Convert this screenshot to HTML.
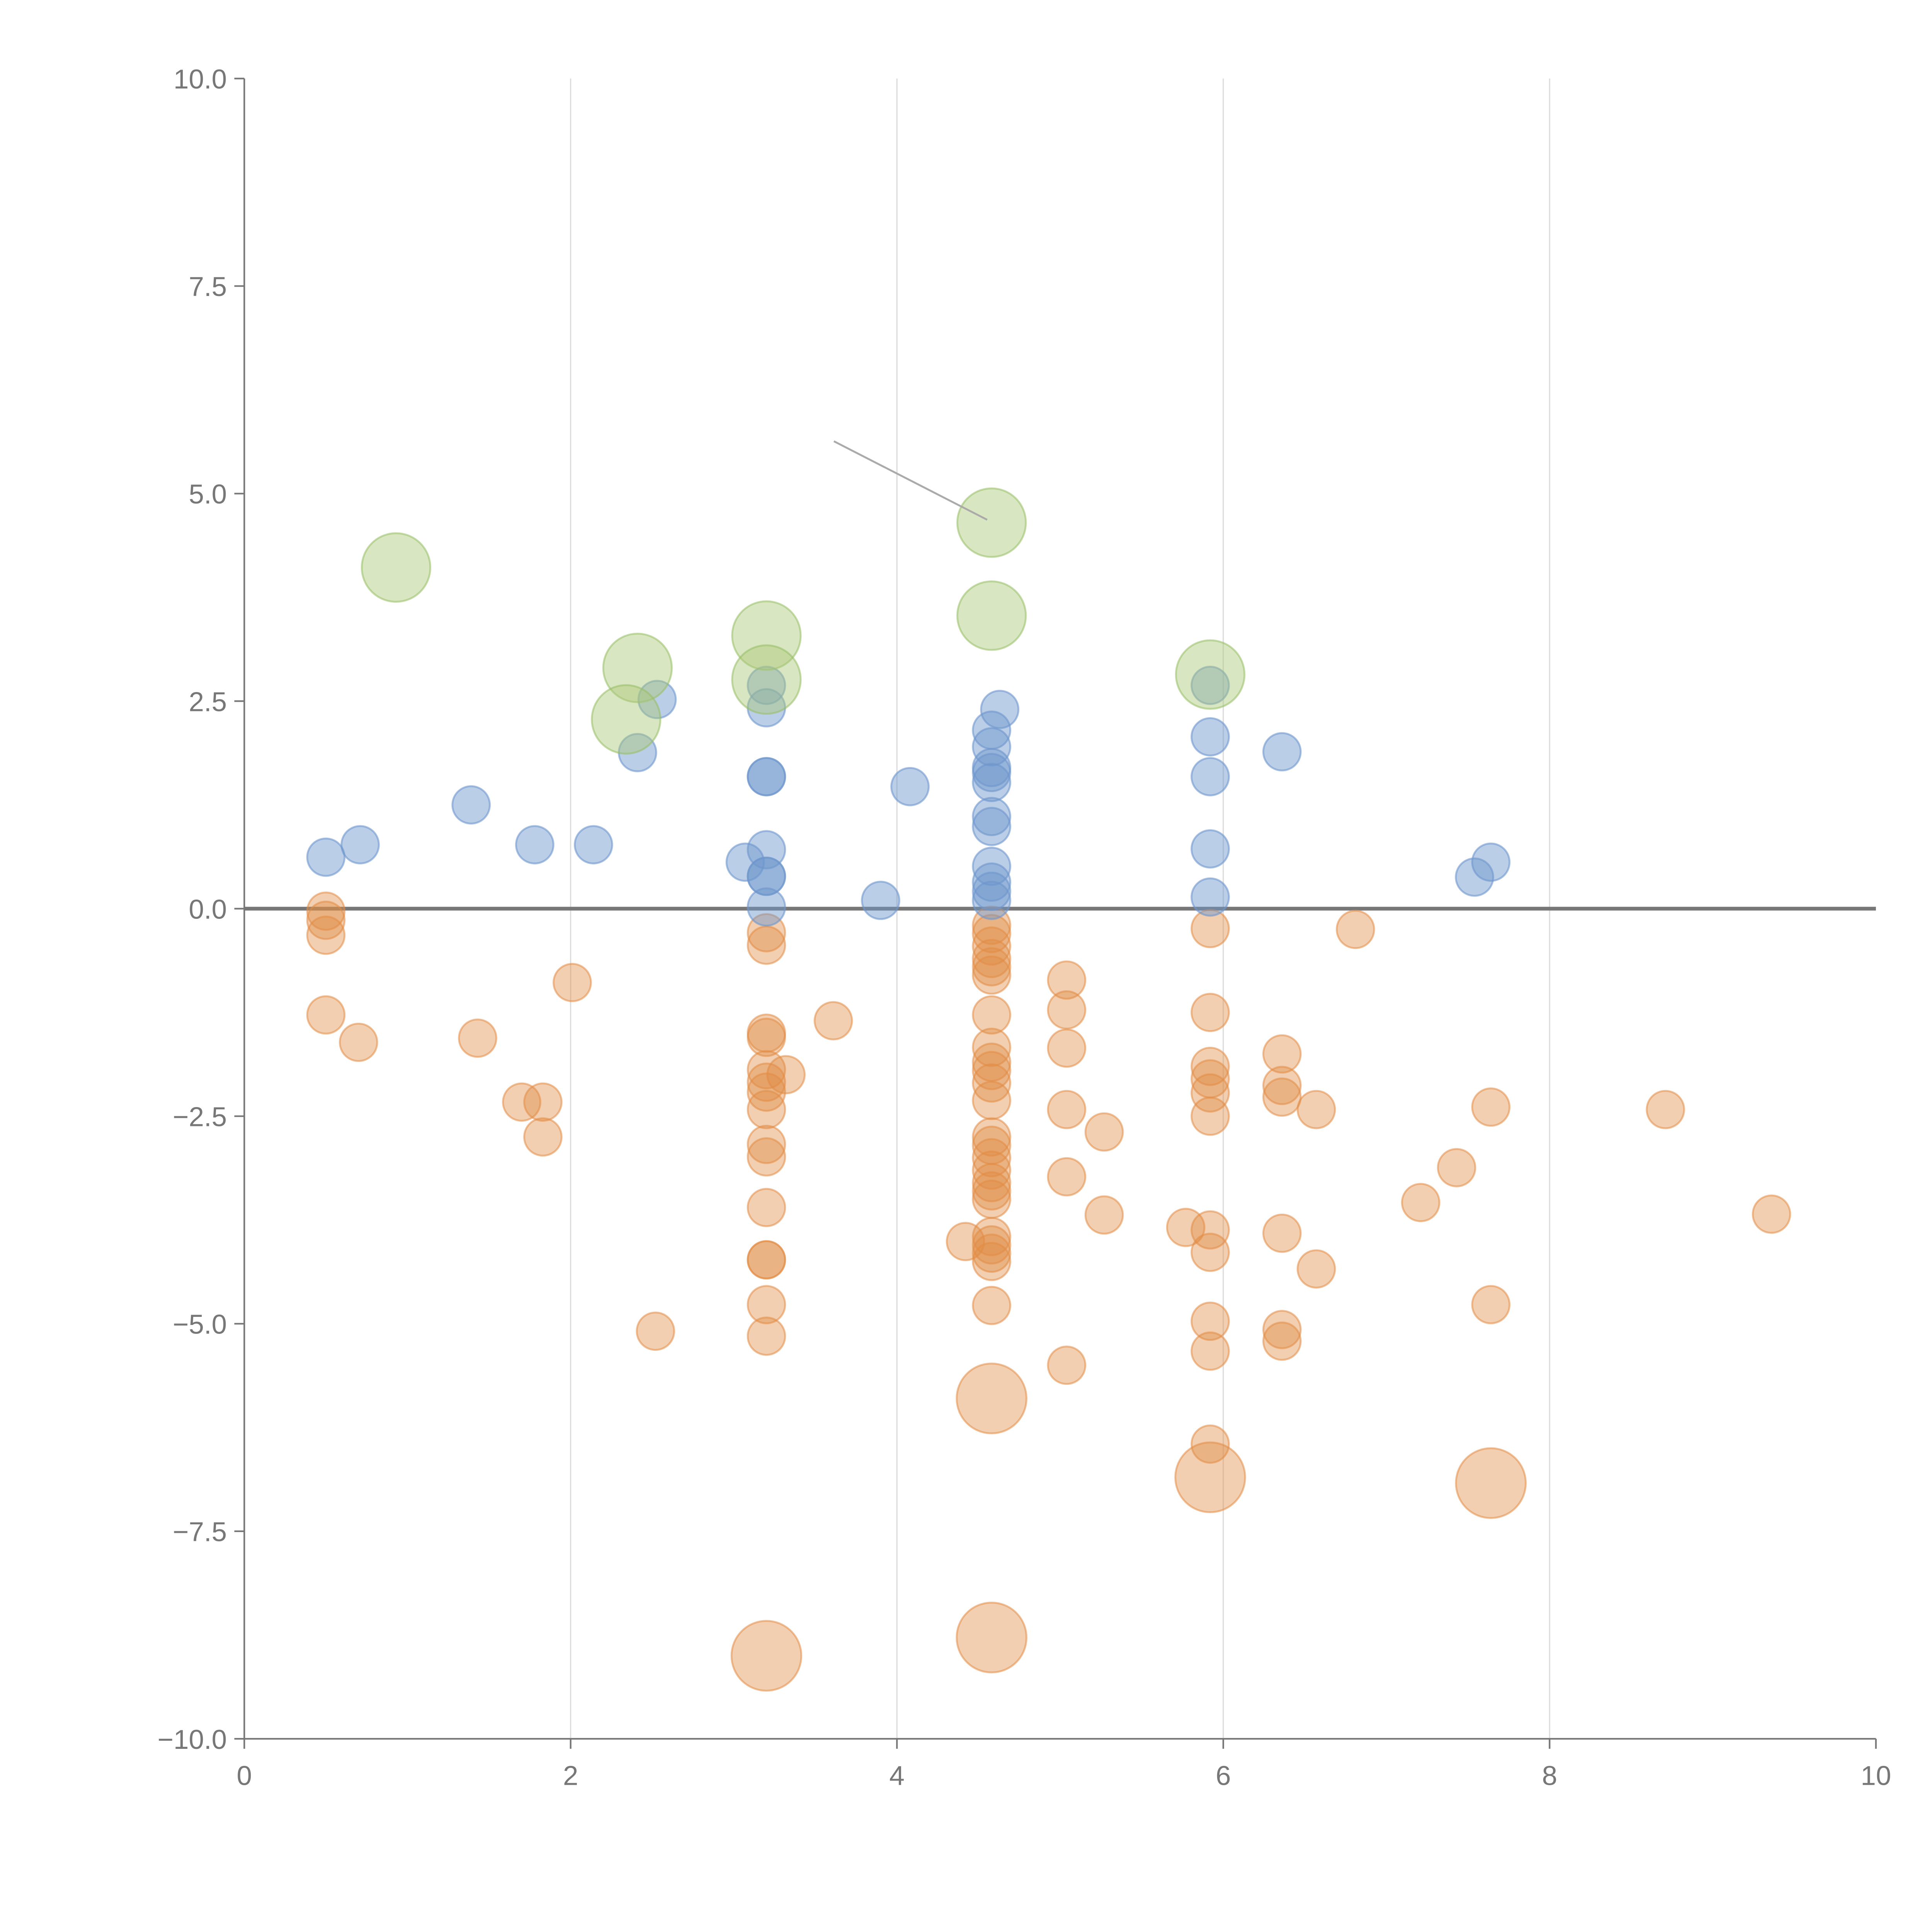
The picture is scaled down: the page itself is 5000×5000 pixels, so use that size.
<!DOCTYPE html>
<html><head><meta charset="utf-8"><style>
html,body{margin:0;padding:0;background:#fff;width:5000px;height:5000px;overflow:hidden}
svg{display:block}
text{font-family:"Liberation Sans",sans-serif;fill:#777;font-size:22px}
</style></head><body>
<svg id="chart" width="5000" height="5000" viewBox="0 0 1550 1550" xmlns="http://www.w3.org/2000/svg">
<g id="grid"></g>
<g id="axes"></g>
<g id="marks"></g>
</svg>
<script>
const xTicks=[0,2,4,6,8,10];
const yTicks=[10,7.5,5,2.5,0,-2.5,-5,-7.5,-10];
const yTickLabels=["10.0","7.5","5.0","2.5","0.0","\u22122.5","\u22125.0","\u22127.5","\u221210.0"];
const blueX=[0.5,0.71,1.39,1.78,2.14,2.41,2.53,3.07,3.2,3.2,3.2,3.2,3.2,3.2,3.2,3.2,3.9,4.08,4.63,4.58,4.58,4.58,4.58,4.58,4.58,4.58,4.58,4.58,4.58,4.58,5.92,5.92,5.92,5.92,5.92,6.36,7.54,7.64];
const blueY=[0.62,0.77,1.25,0.77,0.77,1.88,2.52,0.56,2.69,2.42,1.59,1.59,0.71,0.39,0.39,0.02,0.1,1.47,2.4,2.15,1.95,1.7,1.64,1.52,1.11,0.99,0.51,0.32,0.21,0.1,2.69,2.07,1.59,0.72,0.14,1.89,0.38,0.56];
const greenX=[0.93,2.41,2.34,3.2,3.2,4.58,4.58,5.92];
const greenY=[4.11,2.9,2.28,3.29,2.76,4.65,3.53,2.82];
const orangeX=[0.5,0.5,0.5,0.5,0.7,1.43,1.7,1.83,1.83,2.01,2.52,
3.2,3.2,3.2,3.2,3.2,3.2,3.2,3.32,3.2,3.2,3.2,3.2,3.2,3.2,3.2,3.2,3.61,4.42,
4.58,4.58,4.58,4.58,4.58,4.58,4.58,4.58,4.58,4.58,4.58,4.58,4.58,4.58,4.58,4.58,4.58,4.58,4.58,4.58,4.58,4.58,4.58,4.58,
5.04,5.04,5.04,5.04,5.04,5.04,5.27,5.27,5.77,
5.92,5.92,5.92,5.92,5.92,5.92,5.92,5.92,5.92,5.92,5.92,
6.36,6.36,6.36,6.36,6.36,6.36,6.57,6.57,6.81,7.21,7.43,7.64,7.64,8.71,9.36];
const orangeY=[-0.03,-0.14,-0.32,-1.28,-1.61,-1.56,-2.33,-2.33,-2.75,-0.89,-5.09,
-0.29,-0.44,-1.5,-1.55,-1.94,-2.09,-2.21,-2.0,-2.42,-2.84,-2.99,-3.6,-4.23,-4.23,-4.77,-5.15,-1.35,-4.01,
-0.2,-0.3,-0.45,-0.6,-0.7,-0.8,-1.28,-1.67,-1.85,-1.95,-2.1,-2.31,-2.75,-2.85,-3.0,-3.15,-3.3,-3.4,-3.5,-3.95,-4.05,-4.15,-4.25,-4.78,
-0.86,-1.22,-1.68,-2.42,-3.23,-5.5,-2.69,-3.69,-3.84,
-0.24,-1.25,-1.9,-2.05,-2.22,-2.5,-3.87,-4.14,-4.97,-5.33,-6.45,
-1.75,-2.13,-2.27,-3.91,-5.07,-5.21,-2.42,-4.34,-0.25,-3.54,-3.12,-2.39,-4.77,-2.42,-3.68];
const bigOrangeX=[4.58,5.92,7.64,3.2,4.58];
const bigOrangeY=[-5.9,-6.85,-6.92,-9.0,-8.78];

const NS="http://www.w3.org/2000/svg";
const X0=196,X1=1505,Y0=1395,Y1=63;
function sx(v){return X0+(v-0)/(10-0)*(X1-X0);}
function sy(v){return Y0-(v+10)/20*(Y0-Y1);}
function mk(tag,attrs,parent){const e=document.createElementNS(NS,tag);for(const k in attrs)e.setAttribute(k,attrs[k]);parent.appendChild(e);return e;}
const grid=document.getElementById('grid'),axes=document.getElementById('axes'),marks=document.getElementById('marks');
xTicks.forEach(t=>{
  if(t>0&&t<10){const g=mk('line',{x1:sx(t),x2:sx(t),y1:Y1,y2:Y0,stroke:'#dcdcdc','stroke-width':1},grid);
  
  }
  const tk=mk('line',{x1:sx(t),x2:sx(t),y1:Y0,y2:Y0+8,stroke:'#777','stroke-width':1.3},axes);
  
  
  const tx=mk('text',{x:sx(t),y:Y0+37,'text-anchor':'middle'},axes);tx.textContent=String(t);
  
  
});
yTicks.forEach((t,i)=>{
  const tk=mk('line',{x1:X0-8,x2:X0,y1:sy(t),y2:sy(t),stroke:'#777','stroke-width':1.3},axes);
  
  
  const tx=mk('text',{x:X0-14,y:sy(t)+8,'text-anchor':'end'},axes);tx.textContent=yTickLabels[i];
  
  
});
const ya=mk('line',{x1:X0,x2:X0,y1:Y1,y2:Y0,stroke:'#777','stroke-width':1.3},axes);


const xa=mk('line',{x1:X0,x2:X1,y1:Y0,y2:Y0,stroke:'#777','stroke-width':1.3},axes);


const zl=mk('line',{x1:X0,x2:X1,y1:sy(0),y2:sy(0),stroke:'#777','stroke-width':3},axes);


function series(xs,ys,r,fill,stroke,name){
  xs.forEach((x,i)=>{
    const c=mk('circle',{cx:sx(x),cy:sy(ys[i]),r:r,fill:fill,stroke:stroke,'stroke-width':1.5},marks);
    
    
  });
}
series(orangeX,orangeY,15,'rgba(225,140,70,0.42)','rgba(225,140,70,0.55)','orange-point');
series(blueX,blueY,15,'rgba(110,150,205,0.47)','rgba(110,150,205,0.6)','blue-point');
series(greenX,greenY,27.5,'rgba(170,200,120,0.45)','rgba(150,190,100,0.55)','green-bubble');
series(bigOrangeX,bigOrangeY,28,'rgba(225,140,70,0.42)','rgba(225,140,70,0.55)','large-orange-bubble');
const ann=mk('line',{x1:669,y1:354,x2:792,y2:417,stroke:'#aaa','stroke-width':1.5},marks);


</script>
</body></html>
